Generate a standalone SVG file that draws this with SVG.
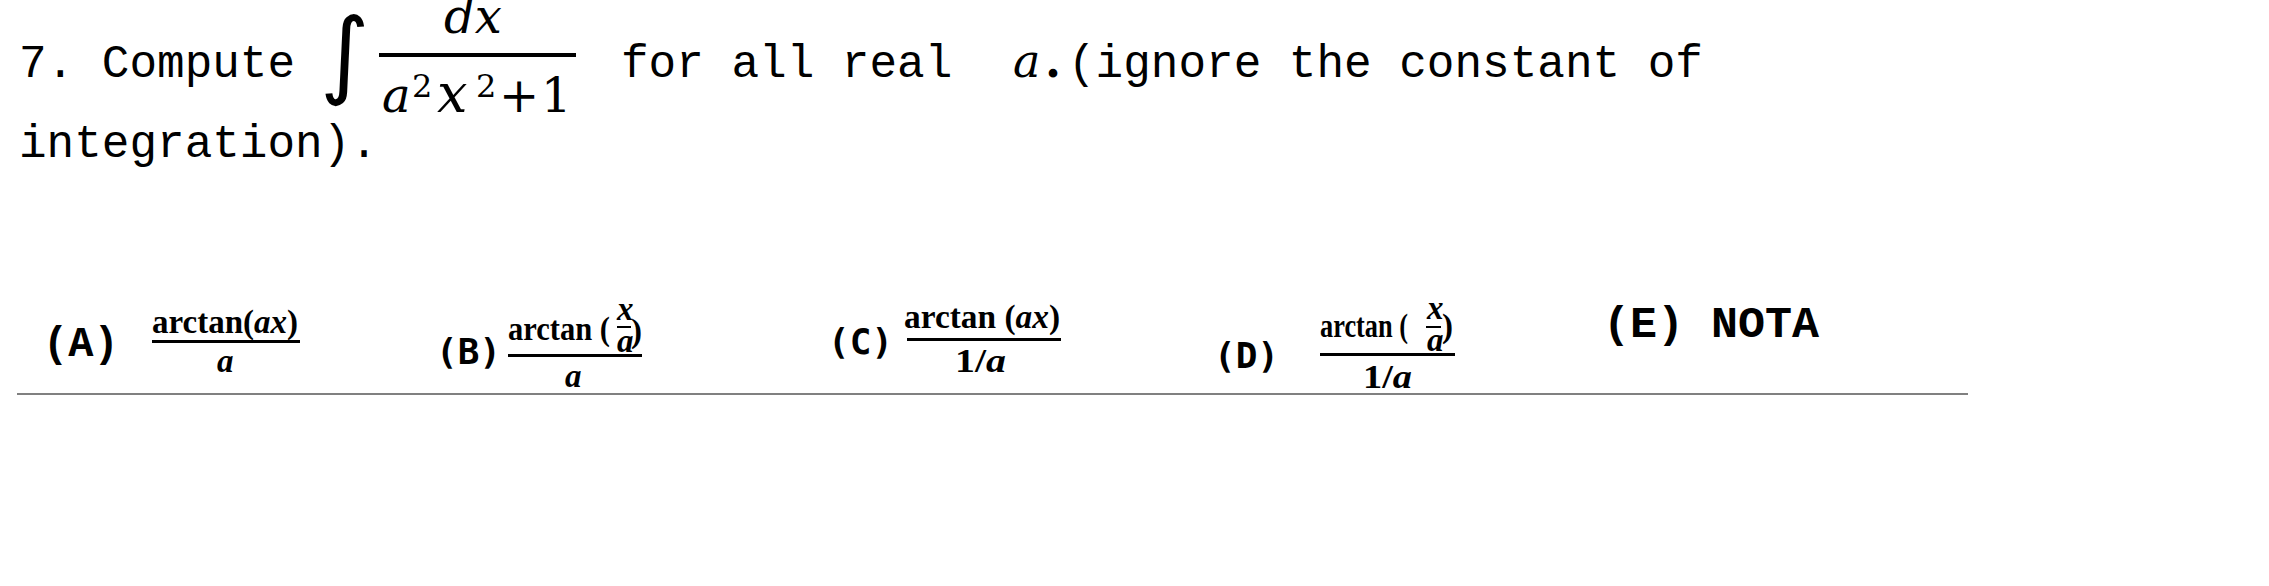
<svg xmlns="http://www.w3.org/2000/svg" width="2269" height="586" viewBox="0 0 2269 586">
<style>
.mono{font-family:"Liberation Mono","Courier New",monospace;font-size:46px;fill:#000}
.lab{font-family:"Liberation Mono","Courier New",monospace;font-weight:bold;fill:#000}
.lab2{font-family:"DejaVu Sans Mono",monospace;font-weight:bold;font-size:36px;fill:#000}
.m{font-family:"DejaVu Serif","Liberation Serif",serif;fill:#000}
.mb{font-family:"Liberation Serif","Times New Roman",serif;font-weight:bold;font-size:33px;fill:#000}
.it{font-style:italic}
.bar{fill:#000}
</style>
<rect width="2269" height="586" fill="#fff"/>
<g id="question">
<text class="mono" x="19" y="77">7. Compute</text>
<text x="320" y="86" font-family="DejaVu Sans,sans-serif" font-size="95">∫</text>
<text class="m it" x="444" y="33" font-size="48">dx</text>
<rect class="bar" x="379" y="53" width="197" height="4"/>
<text class="m it" x="382" y="112" font-size="48">a</text>
<text class="m" x="412" y="97" font-size="32">2</text>
<text class="m it" x="437" y="112" font-size="54">x</text>
<text class="m" x="476" y="97" font-size="32">2</text>
<text class="m" x="499" y="112" font-size="48">+</text>
<text class="m" x="541" y="112" font-size="48">1</text>
<text class="mono" x="621" y="77" xml:space="preserve">for all real</text>
<text class="m it" x="1013" y="77" font-size="46">a</text>
<text class="m" x="1045" y="77" font-size="46" font-weight="bold">.</text>
<text class="mono" x="1068" y="77">(ignore the constant of</text>
<text class="mono" x="19" y="157">integration).</text>
</g>
<g id="optA">
<text class="lab" x="43" y="356" font-size="42">(A)</text>
<text class="mb" x="152" y="333" textLength="146" lengthAdjust="spacingAndGlyphs">arctan(<tspan class="it">ax</tspan>)</text>
<rect class="bar" x="152" y="340" width="148" height="3"/>
<text class="mb it" x="217" y="372">a</text>
</g>
<g id="optB">
<text class="lab2" x="436" y="364">(B)</text>
<text class="mb" x="508" y="340" textLength="102" lengthAdjust="spacingAndGlyphs">arctan (</text>
<text class="mb it" x="617" y="320" font-size="25">x</text>
<rect class="bar" x="617" y="326" width="14" height="2"/>
<text class="mb it" x="617" y="352" font-size="25">a</text>
<text class="mb" x="631" y="342">)</text>
<rect class="bar" x="508" y="354" width="134" height="3"/>
<text class="mb it" x="565" y="387">a</text>
</g>
<g id="optC">
<text class="lab2" x="828" y="354">(C)</text>
<text class="mb" x="904" y="328" textLength="156" lengthAdjust="spacingAndGlyphs">arctan (<tspan class="it">ax</tspan>)</text>
<rect class="bar" x="907" y="338" width="154" height="3"/>
<text class="mb" x="955" y="372" textLength="51" lengthAdjust="spacingAndGlyphs">1/<tspan class="it">a</tspan></text>
</g>
<g id="optD">
<text class="lab2" x="1214" y="368">(D)</text>
<text class="mb" x="1320" y="337" textLength="88" lengthAdjust="spacingAndGlyphs">arctan (</text>
<text class="mb it" x="1427" y="319" font-size="25">x</text>
<rect class="bar" x="1426" y="326" width="15" height="2"/>
<text class="mb it" x="1427" y="351" font-size="25">a</text>
<text class="mb" x="1442" y="337">)</text>
<rect class="bar" x="1320" y="353" width="135" height="3"/>
<text class="mb" x="1363" y="388" textLength="49" lengthAdjust="spacingAndGlyphs">1/<tspan class="it">a</tspan></text>
</g>
<g id="optE">
<text class="lab" x="1603" y="337" font-size="45" xml:space="preserve">(E) NOTA</text>
</g>
<g id="connectors">
<line x1="17" y1="394" x2="1968" y2="394" stroke="#808080" stroke-width="2"/>
</g>
</svg>
